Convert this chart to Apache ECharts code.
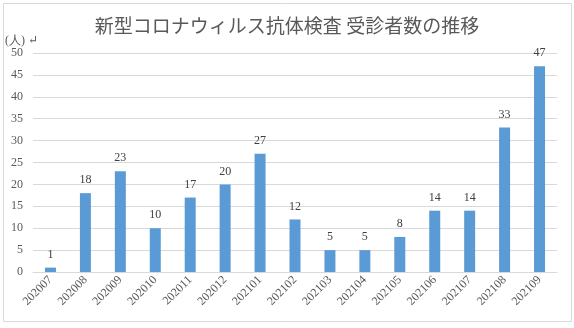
<!DOCTYPE html>
<html><head><meta charset="utf-8">
<script src="https://cdn.jsdelivr.net/npm/echarts@6/dist/echarts.min.js"></script>
<style>html,body{margin:0;padding:0;background:#fff}#c{width:574px;height:328px}</style>
</head><body><div id="c"></div>
<script>
const titleText = '新型コロナウィルス抗体検査 受診者数の推移';
const unitLabel = '(人) ↵';
const categories = ['202007','202008','202009','202010','202011','202012','202101','202102','202103','202104','202105','202106','202107','202108','202109'];
const values = [1,18,23,10,17,20,27,12,5,5,8,14,14,33,47];
const yMin = 0, yMax = 50, yStep = 5;

const serif = '"Liberation Serif","DejaVu Serif",serif';
const chart = echarts.init(document.getElementById('c'), null, {renderer:'canvas'});
chart.setOption({
  animation:false,
  backgroundColor:'#fff',
  graphic:[{type:'rect',shape:{x:3.5,y:3.5,width:568,height:318},style:{fill:'none',stroke:'#d9d9d9',lineWidth:1}},
           {type:'text',left:5,top:35,style:{text:unitLabel,font:'12px '+serif,fill:'#595959'}}],
  title:{text:titleText,left:'center',top:11,textStyle:{fontFamily:'"Noto Sans CJK JP",sans-serif',fontSize:19,fontWeight:'normal',color:'#595959'}},
  grid:{left:33,right:17,top:53,bottom:56,containLabel:false},
  xAxis:{type:'category',data:categories,
    axisLine:{lineStyle:{color:'#d9d9d9'}},axisTick:{show:false},
    axisLabel:{rotate:45,interval:0,fontFamily:serif,fontSize:12,color:'#595959',margin:6}},
  yAxis:{type:'value',min:yMin,max:yMax,interval:yStep,
    axisLine:{show:false},axisTick:{show:false},
    splitLine:{lineStyle:{color:'#d9d9d9'}},
    axisLabel:{fontFamily:serif,fontSize:12,color:'#595959',margin:10}},
  series:[{type:'bar',data:values,barWidth:11,itemStyle:{color:'#5b9bd5'},
    label:{show:true,position:'top',distance:7,fontFamily:serif,fontSize:12,color:'#404040'}}]
});
</script></body></html>
